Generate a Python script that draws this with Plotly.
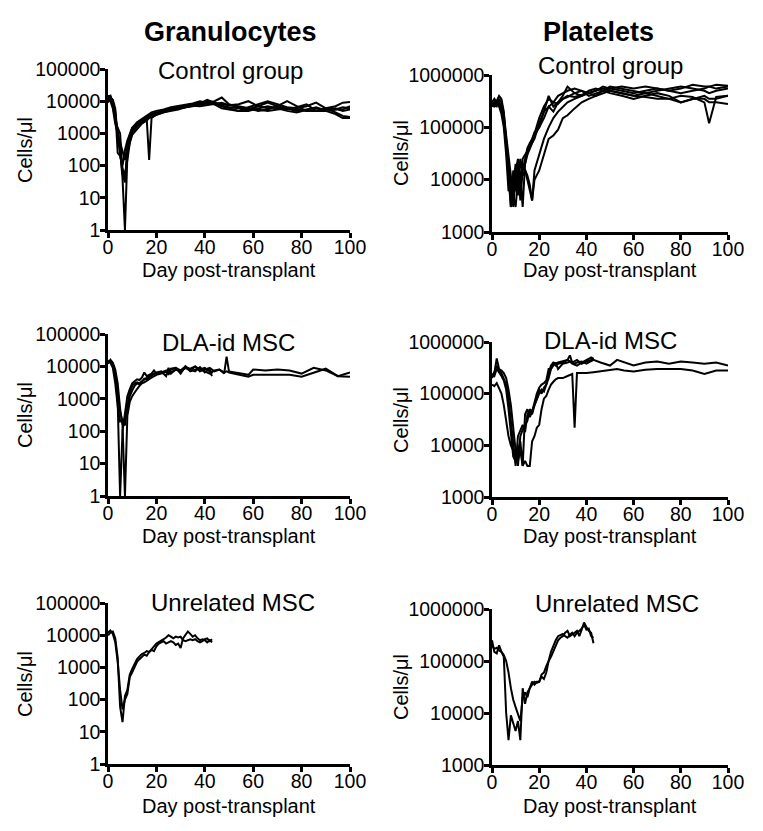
import plotly.graph_objects as go

# ---------------- data ----------------
day_ticks = [0, 20, 40, 60, 80, 100]
gran_ticks = [1, 10, 100, 1000, 10000, 100000]
plt_ticks = [1000, 10000, 100000, 1000000]

# Granulocytes, control group (cells/ul)
gran_ctrl_days = [0, 1, 2, 3, 4, 5, 6, 7, 8, 9, 10, 12, 14, 16, 17, 18, 20, 23, 26, 29,
                  32, 35, 38, 41, 44, 47, 50, 54, 58, 62, 66, 70, 74, 78, 82, 86, 90, 94, 97, 100]
gran_ctrl_1 = [14000, 15000, 8000, 3000, 1200, 300, 40, 1, 200, 900, 1500, 2200, 2800, 3500, 4000, 4500,
               5000, 5500, 6500, 7000, 7500, 8500, 10000, 9000, 8000, 7000, 6500, 6000, 5500, 7000, 9000, 7000,
               6000, 5000, 5500, 6000, 5500, 6000, 5000, 5500]
gran_ctrl_2 = [10000, 12000, 9000, 5000, 1000, 250, 60, 30, 300, 700, 1200, 1800, 2500, 2800, 150, 3000,
               3800, 4500, 5000, 5500, 6500, 7000, 8000, 9000, 10000, 13000, 8000, 6500, 6000, 5000, 5500, 7000,
               10000, 7000, 5000, 5000, 6000, 4500, 3500, 3200]
gran_ctrl_3 = [9000, 13000, 11000, 6000, 250, 200, 100, 300, 600, 1000, 1500, 2000, 2600, 3200, 3500, 3800,
               4200, 5000, 5500, 6000, 7000, 7500, 8000, 8500, 9000, 7000, 6000, 5000, 6500, 8000, 10000, 8000,
               6500, 6000, 7000, 9000, 6000, 7000, 9000, 9500]
gran_ctrl_4 = [15000, 11000, 7000, 2500, 1500, 1000, 60, 40, 250, 600, 1100, 1600, 2200, 3000, 3300, 3600,
               4000, 4800, 5500, 6000, 6500, 7500, 8500, 11000, 9000, 8000, 7500, 8000, 10000, 7000, 6000, 6500,
               5500, 6500, 8000, 5000, 5000, 5500, 6500, 6000]
gran_ctrl_5 = [12000, 14000, 10000, 4000, 800, 300, 80, 50, 150, 500, 900, 1400, 2000, 2500, 3000, 3200,
               3800, 4500, 5200, 6000, 6500, 7200, 7000, 7500, 8000, 9000, 7500, 7000, 6000, 5500, 5000, 5500,
               6000, 5500, 5000, 5000, 6000, 5500, 5500, 7000]
gran_ctrl_6 = [11000, 10000, 6000, 2000, 1000, 500, 250, 150, 400, 800, 1300, 1900, 2400, 3000, 3400, 4000,
               4500, 5300, 6000, 6500, 7500, 8000, 9000, 10000, 8000, 6000, 5500, 5000, 5000, 6000, 7000, 6000,
               5000, 4500, 5500, 6500, 5000, 4000, 3000, 3000]

# Platelets, control group (thousand cells/ul)
plt_ctrl_days = [0, 1, 2, 3, 4, 5, 6, 7, 8, 9, 10, 11, 12, 13, 14, 15, 16, 17, 18, 20,
                 22, 24, 26, 28, 30, 32, 35, 38, 41, 44, 47, 50, 55, 60, 65, 70, 75, 80, 85, 90,
                 92, 95, 100]
plt_ctrl_1_k = [280, 300, 320, 400, 350, 200, 60, 15, 3, 8, 20, 5, 12, 3, 20, 30, 40, 50, 60, 120,
                200, 400, 250, 300, 400, 600, 450, 500, 400, 450, 500, 550, 500, 450, 500, 550, 500, 450, 500, 550,
                600, 550, 600]
plt_ctrl_2_k = [250, 280, 300, 280, 250, 150, 40, 8, 3, 15, 6, 20, 4, 15, 25, 40, 50, 60, 80, 100,
                150, 250, 200, 300, 350, 400, 380, 420, 450, 500, 550, 500, 450, 400, 450, 400, 350, 300, 350, 400,
                350, 350, 400]
plt_ctrl_3_k = [300, 350, 300, 250, 180, 100, 30, 6, 10, 3, 12, 20, 8, 25, 30, 35, 45, 50, 70, 100,
                200, 250, 300, 280, 350, 380, 450, 400, 500, 550, 500, 600, 550, 500, 450, 500, 550, 600, 550, 500,
                450, 500, 550]
plt_ctrl_4_k = [260, 250, 280, 300, 220, 120, 50, 20, 6, 4, 10, 15, 20, 12, 15, 10, 6, 4, 15, 30,
                60, 100, 150, 200, 250, 300, 350, 400, 450, 400, 450, 500, 450, 400, 380, 350, 350, 400, 380, 300,
                120, 380, 400]
plt_ctrl_5_k = [270, 290, 310, 300, 250, 150, 60, 20, 8, 12, 15, 25, 10, 20, 15, 12, 8, 4, 10, 15,
                30, 60, 70, 90, 150, 170, 230, 300, 350, 400, 500, 450, 400, 350, 400, 450, 400, 300, 350, 350,
                300, 300, 280]
plt_ctrl_6_k = [290, 260, 250, 350, 300, 180, 70, 25, 12, 5, 3, 10, 25, 15, 20, 35, 45, 55, 75, 150,
                250, 350, 300, 400, 450, 500, 550, 500, 450, 500, 600, 550, 600, 550, 600, 550, 500, 550, 650, 600,
                600, 650, 620]

# Granulocytes, DLA-identical MSC
gran_dla_long_days = [0, 1, 2, 3, 4, 5, 6, 7, 8, 9, 10, 11, 12, 13, 14, 15, 16, 17, 18, 19,
                      20, 22, 24, 26, 28, 30, 32, 34, 36, 38, 40, 42, 44, 46, 48, 49, 50, 52, 55, 58,
                      60, 65, 70, 75, 80, 85, 90, 95, 100]
gran_dla_1 = [15000, 14000, 12000, 6000, 800, 1, 100, 400, 1200, 2000, 3000, 3500, 4000, 3800, 4500, 6500,
              5000, 5500, 6000, 7500, 6000, 6500, 7000, 6500, 8000, 7500, 9000, 8500, 10000, 7000, 8000, 9000,
              7000, 8000, 6000, 20000, 7000, 6500, 6000, 5500, 8000, 7500, 8000, 7500, 6000, 9000, 7500, 5000, 6500]
gran_dla_2 = [12000, 16000, 13000, 8000, 3000, 500, 150, 1, 300, 800, 1200, 1600, 2000, 2500, 3000, 3200,
              3500, 4000, 4500, 5000, 5500, 6000, 7000, 8000, 9000, 7500, 10000, 7000, 8000, 9000, 7000, 6000,
              7500, 8000, 6500, 7000, 6500, 6000, 5500, 4800, 5500, 5500, 5500, 5500, 4800, 6500, 8500, 5000, 4800]
gran_dla_short_days = [0, 1, 2, 3, 4, 5, 6, 7, 8, 9, 10, 11, 12, 13, 14, 15, 16, 17, 18, 19,
                       20, 22, 24, 25, 26, 28, 30, 32, 34, 36, 38, 40, 42, 43]
gran_dla_3 = [14000, 13000, 9000, 3000, 600, 200, 220, 150, 600, 1500, 2500, 3000, 3200, 3000, 3500, 4000,
              4500, 5000, 5500, 6000, 6500, 7000, 5000, 9000, 6000, 8000, 7000, 9000, 7500, 10000, 8000, 9000,
              7000, 5000]
gran_dla_4 = [13000, 15000, 11000, 5000, 1500, 400, 200, 250, 500, 1200, 1800, 2500, 3000, 2800, 3300, 4200,
              4000, 4500, 5200, 5800, 6000, 6500, 7500, 5500, 8500, 9000, 6000, 10000, 8000, 7000, 9500, 6500,
              8500, 6000]

# Platelets, DLA-identical MSC (thousand cells/ul)
plt_dla_long_days = [0, 1, 2, 3, 4, 5, 6, 7, 8, 9, 10, 11, 12, 13, 14, 15, 16, 17, 18, 19,
                     20, 21, 22, 23, 24, 25, 26, 27, 28, 30, 32, 34, 35, 36, 38, 40, 43, 46, 50, 53,
                     56, 60, 65, 70, 75, 80, 85, 90, 95, 100]
plt_dla_1_k = [150, 140, 160, 130, 100, 60, 30, 15, 10, 8, 6, 5, 8, 4, 5, 4, 4, 12, 15, 22,
               25, 50, 80, 90, 120, 150, 170, 190, 200, 200, 220, 240, 22, 250, 250, 250, 260, 270, 280, 300,
               280, 270, 290, 300, 300, 300, 280, 240, 280, 280]
plt_dla_2_k = [200, 250, 480, 300, 280, 250, 200, 120, 60, 20, 8, 4, 15, 20, 25, 30, 50, 45, 60, 80,
               100, 120, 110, 150, 200, 300, 400, 350, 380, 400, 450, 400, 380, 400, 420, 380, 450, 400, 350, 450,
               400, 350, 400, 420, 380, 420, 400, 380, 400, 350]
plt_dla_short_days = [0, 1, 2, 3, 4, 5, 6, 7, 8, 9, 10, 11, 12, 13, 14, 15, 16, 17, 18, 19,
                      20, 21, 22, 23, 24, 25, 26, 27, 28, 30, 32, 33, 34, 36, 38, 40, 42, 43]
plt_dla_3_k = [220, 260, 350, 280, 250, 200, 150, 80, 30, 10, 4, 15, 20, 25, 18, 40, 45, 40, 60, 80,
               120, 100, 130, 150, 250, 350, 400, 380, 400, 420, 450, 550, 400, 450, 380, 420, 450, 500]
plt_dla_4_k = [240, 220, 300, 260, 220, 180, 120, 50, 15, 6, 5, 8, 12, 4, 40, 50, 35, 45, 70, 100,
               130, 150, 160, 180, 300, 300, 350, 400, 300, 380, 400, 420, 380, 350, 400, 450, 500, 450]

# Unrelated MSC (daily, day 0-43)
unrel_days = [0, 1, 2, 3, 4, 5, 6, 7, 8, 9, 10, 11, 12, 13, 14, 15, 16, 17, 18, 19,
              20, 21, 22, 23, 24, 25, 26, 27, 28, 29, 30, 31, 32, 33, 34, 35, 36, 37, 38, 39,
              40, 41, 42, 43]
gran_unrel_1 = [12000, 14000, 11000, 6000, 1500, 200, 50, 100, 150, 500, 700, 1000, 1500, 1800, 2200, 2500,
                2300, 3000, 3500, 3200, 4500, 5500, 6000, 6500, 5500, 6000, 6500, 6000, 5000, 5500, 4000, 8000,
                10000, 13000, 11000, 9000, 10000, 8000, 7000, 7500, 7000, 6000, 7000, 6000]
gran_unrel_2 = [10000, 12000, 13000, 8000, 2000, 60, 20, 130, 200, 600, 900, 1300, 1800, 2200, 2600, 2800,
                3200, 3000, 3800, 4500, 5500, 6000, 6500, 7500, 8500, 10000, 9000, 8000, 9000, 8500, 9000, 7000,
                6500, 7000, 7500, 7000, 7500, 6500, 6000, 6500, 7500, 8000, 6500, 7500]
plt_unrel_1_k = [250, 150, 140, 200, 150, 120, 10, 3, 9, 6, 4.5, 7, 3, 30, 15, 25, 30, 40, 35, 40,
                 40, 50, 45, 60, 100, 120, 150, 200, 250, 280, 300, 350, 380, 300, 320, 350, 380, 300, 400, 550,
                 450, 380, 350, 220]
plt_unrel_2_k = [200, 170, 180, 160, 150, 130, 100, 60, 30, 18, 13, 9, 7, 20, 25, 20, 30, 35, 40, 38,
                 40, 55, 60, 80, 100, 150, 200, 250, 300, 320, 330, 300, 280, 320, 350, 300, 350, 380, 420, 500,
                 400, 420, 300, 280]

# ---------------- figure ----------------
OFF = 8                      # page body margin of the html page
W, H = 763 - OFF, 831 - OFF  # figure size so that it fills the window
FONT = "Liberation Sans, Arial, Helvetica, sans-serif"


def px_x(p):
    return (p - OFF) / W


def px_y(p):
    return 1 - (p - OFF) / H


def xdom(a, b):
    return [px_x(a), px_x(b)]


def ydom(top, bottom):
    return [px_y(bottom), px_y(top)]


def k(vals):
    return [v * 1000 for v in vals]


panels = [
    # (axis index, x px, y px, log range, y ticks, series list)
    (1, (108, 350), (69, 230), [0, 5], gran_ticks,
     [(gran_ctrl_days, s) for s in [gran_ctrl_1, gran_ctrl_2, gran_ctrl_3, gran_ctrl_4, gran_ctrl_5, gran_ctrl_6]]),
    (2, (492, 728), (75, 232), [3, 6], plt_ticks,
     [(plt_ctrl_days, k(s)) for s in [plt_ctrl_1_k, plt_ctrl_2_k, plt_ctrl_3_k, plt_ctrl_4_k, plt_ctrl_5_k, plt_ctrl_6_k]]),
    (3, (108, 350), (334, 496), [0, 5], gran_ticks,
     [(gran_dla_long_days, gran_dla_1), (gran_dla_long_days, gran_dla_2),
      (gran_dla_short_days, gran_dla_3), (gran_dla_short_days, gran_dla_4)]),
    (4, (492, 728), (342, 497), [3, 6], plt_ticks,
     [(plt_dla_long_days, k(plt_dla_1_k)), (plt_dla_long_days, k(plt_dla_2_k)),
      (plt_dla_short_days, k(plt_dla_3_k)), (plt_dla_short_days, k(plt_dla_4_k))]),
    (5, (108, 350), (603, 764), [0, 5], gran_ticks,
     [(unrel_days, gran_unrel_1), (unrel_days, gran_unrel_2)]),
    (6, (492, 728), (609, 765), [3, 6], plt_ticks,
     [(unrel_days, k(plt_unrel_1_k)), (unrel_days, k(plt_unrel_2_k))]),
]

fig = go.Figure()
layout = dict(
    width=W, height=H, margin=dict(l=0, r=0, t=0, b=0, pad=0, autoexpand=False),
    paper_bgcolor="white", plot_bgcolor="white",
    showlegend=False, font=dict(family=FONT, color="black", size=20),
)

axis_common = dict(showline=True, linecolor="black", linewidth=2.5, ticks="outside", ticklen=5,
                   tickwidth=2.5, tickcolor="black", showgrid=False, zeroline=False, automargin=False,
                   tickfont=dict(family=FONT, size=19.5, color="black"), fixedrange=True)

for idx, (xa, xb), (yt, yb), yr, yticks, series in panels:
    sfx = "" if idx == 1 else str(idx)
    for d, v in series:
        fig.add_trace(go.Scatter(x=d, y=v, mode="lines", line=dict(color="black", width=2),
                                 xaxis="x" + sfx, yaxis="y" + sfx, hoverinfo="skip"))
    layout["xaxis" + sfx] = dict(axis_common, domain=xdom(xa, xb), anchor="y" + sfx, range=[0, 100],
                                 tickmode="array", tickvals=day_ticks, ticktext=[str(t) for t in day_ticks],
                                 ticklabelstandoff=-7)
    layout["yaxis" + sfx] = dict(axis_common, domain=ydom(yt, yb), anchor="x" + sfx, type="log", range=yr,
                                 tickmode="array", tickvals=yticks, ticktext=[str(t) for t in yticks],
                                 ticklabelstandoff=-4)

annotations = []


def ann(text, x, y, size, bold=False, angle=0):
    annotations.append(dict(text=("<b>%s</b>" % text) if bold else text, x=px_x(x), y=px_y(y),
                            xref="paper", yref="paper", showarrow=False, xanchor="center", yanchor="middle",
                            textangle=angle, font=dict(family=FONT, size=size, color="black")))


ann("Granulocytes", 231, 32, 27, bold=True)
ann("Platelets", 598, 32, 27, bold=True)
ann("Control group", 231, 70, 24)
ann("Control group", 610, 66, 24)
ann("DLA-id MSC", 228, 342, 24)
ann("DLA-id MSC", 610, 340, 24)
ann("Unrelated MSC", 233, 602, 24)
ann("Unrelated MSC", 617, 603, 24)
for yc in (150, 415, 684):
    ann("Cells/μl", 25, yc, 20, angle=-90)
for yc in (153, 420, 687):
    ann("Cells/μl", 401, yc, 20, angle=-90)
for yc in (270, 536, 806):
    ann("Day post-transplant", 229, yc, 20)
    ann("Day post-transplant", 610, yc, 20)

layout["annotations"] = annotations
fig.update_layout(**layout)
fig.write_html("out.html", config={"displayModeBar": False})
